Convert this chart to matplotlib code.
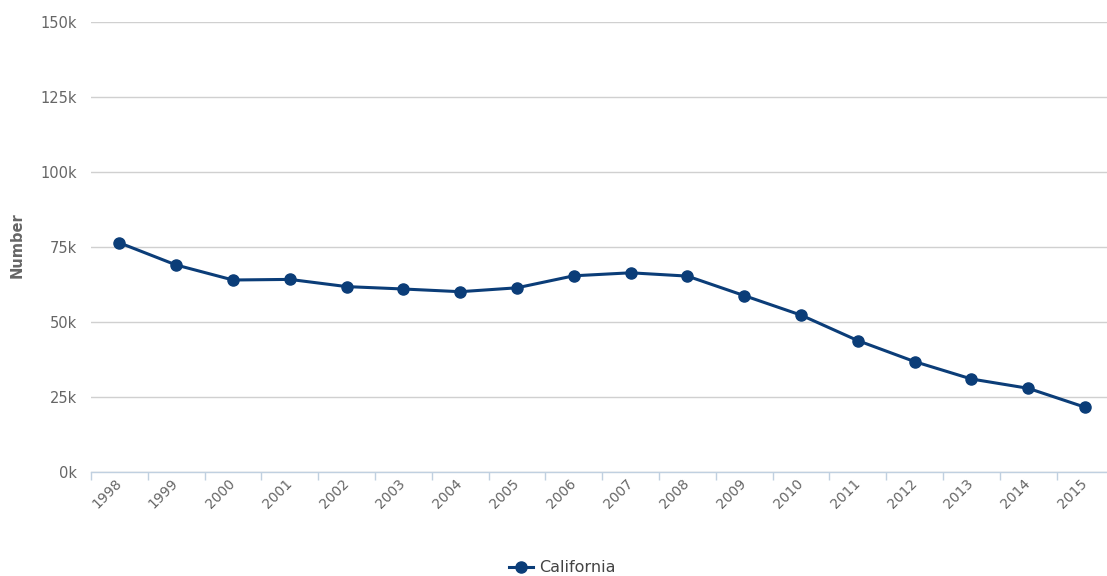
import matplotlib.pyplot as plt
from matplotlib.ticker import FixedLocator, FuncFormatter

plt.rcParams['font.family'] = ['DejaVu Sans']

years = ['1998', '1999', '2000', '2001', '2002', '2003', '2004', '2005', '2006',
         '2007', '2008', '2009', '2010', '2011', '2012', '2013', '2014', '2015']
california = [76300, 68900, 63900, 64100, 61700, 60900, 60000, 61300, 65300,
              66300, 65200, 58700, 52200, 43700, 36700, 30900, 27800, 21500]
y_ticks = [0, 25000, 50000, 75000, 100000, 125000, 150000]

line_color = '#0b3d78'
text_color = '#666666'
grid_color = '#d0d0d0'
axis_color = '#c0d0e0'

W, H = 1107, 576
fig = plt.figure(figsize=(W / 100, H / 100), dpi=100)
ax = fig.add_axes([91 / W, (H - 471.7) / H, (W - 91) / W, 450 / H])

x = list(range(len(years)))
ax.plot(x, california, color=line_color, lw=2.2, marker='o', ms=8,
        label='California', zorder=3)

ax.set_xlim(-0.5, -0.5 + (W - 91) / 56.8)
ax.set_ylim(0, 150000)

# category boundaries get the tick marks, labels sit at the centres
ax.xaxis.set_major_locator(FixedLocator([i - 0.5 for i in x]))
ax.xaxis.set_major_formatter(FuncFormatter(lambda v, p: ''))
ax.xaxis.set_minor_locator(FixedLocator(x))
ax.set_xticklabels(years, minor=True)
ax.tick_params(axis='x', which='major', length=6, width=1, color=axis_color)
ax.tick_params(axis='x', which='minor', length=0, pad=7, labelsize=10,
               labelcolor=text_color)
for lbl in ax.get_xticklabels(minor=True):
    lbl.set_rotation(45)
    lbl.set_ha('right')
    lbl.set_va('center')
    lbl.set_rotation_mode('anchor')

ax.yaxis.set_major_locator(FixedLocator(y_ticks))
ax.yaxis.set_major_formatter(FuncFormatter(lambda v, p: f'{int(v / 1000)}k'))
ax.tick_params(axis='y', length=0, pad=10, labelsize=10.5, labelcolor=text_color)
ax.grid(axis='y', color=grid_color, lw=1)
ax.set_axisbelow(True)

for side in ['top', 'right', 'left']:
    ax.spines[side].set_visible(False)
ax.spines['bottom'].set_color(axis_color)
ax.spines['bottom'].set_linewidth(1)
ax.spines['bottom'].set_zorder(2)

fig.text(17 / W, 1 - 245 / H, 'Number', rotation=90, ha='center', va='center',
         fontsize=10.5, fontweight='bold', color=text_color)

fig.legend(loc='center', bbox_to_anchor=(562 / W, 1 - 568 / H), frameon=False,
           fontsize=11.5, labelcolor='#444444', handlelength=1.5, handletextpad=0.4)

fig.savefig('out.png', dpi=100)
